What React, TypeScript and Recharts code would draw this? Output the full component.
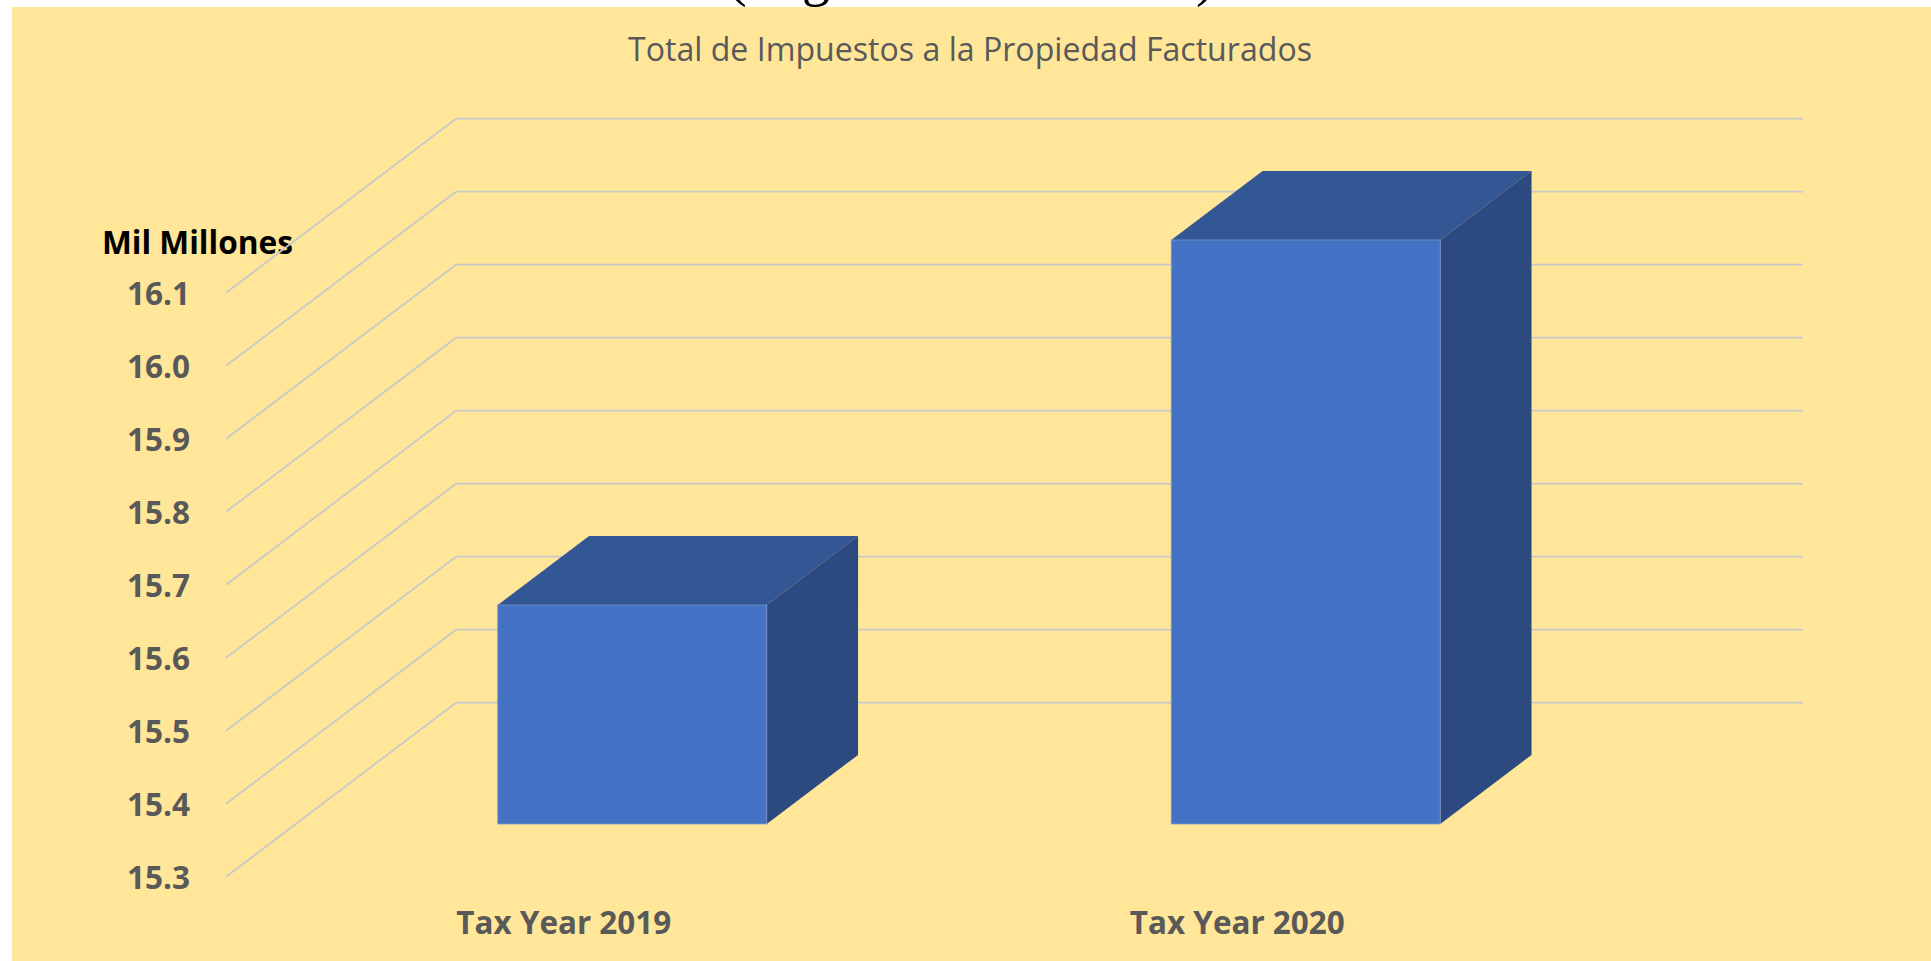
import React from 'react';
import { BarChart, Bar, XAxis, YAxis, CartesianGrid } from 'recharts';

// ---- data ----
const categories = ['Tax Year 2019', 'Tax Year 2020'];
const values = [15.6, 16.1];
const yTicks = [15.3, 15.4, 15.5, 15.6, 15.7, 15.8, 15.9, 16.0, 16.1];
const yDomain = [15.3, 16.1];
const titleText = 'Total de Impuestos a la Propiedad Facturados';
const unitText = 'Mil Millones';

const data = categories.map((name, i) => ({ name, value: values[i] }));

// ---- 3D geometry (styling) ----
const DEPTH_X = 230;
const DEPTH_Y = 174;
const BAR_FRONT = 0.303;
const BAR_BACK = 0.7;

const W = 1931;
const H = 961;
const GRID = '#C9C9C9';
const LABEL = '#595959';
const FONT = '"Open Sans", "Noto Sans", sans-serif';

const gridLine = (props: any) => {
  const { x1, x2, y1, index } = props;
  const bx = x1 + DEPTH_X;
  const by = y1 - DEPTH_Y;
  return (
    <g key={`grid-${index}`}>
      <line x1={x1} y1={y1} x2={bx} y2={by} stroke={GRID} strokeWidth={1.8} />
      <line x1={bx} y1={by} x2={x2 + DEPTH_X} y2={by} stroke={GRID} strokeWidth={1.8} />
    </g>
  );
};

const Bar3D = (props: any) => {
  const { x, y, width, height } = props;
  const fx = x + BAR_FRONT * DEPTH_X;
  const fy = y - BAR_FRONT * DEPTH_Y;
  const dx = (BAR_BACK - BAR_FRONT) * DEPTH_X;
  const dy = (BAR_BACK - BAR_FRONT) * DEPTH_Y;
  const top = `${fx},${fy} ${fx + width},${fy} ${fx + width + dx},${fy - dy} ${fx + dx},${fy - dy}`;
  const side = `${fx + width},${fy} ${fx + width + dx},${fy - dy} ${fx + width + dx},${fy + height - dy} ${fx + width},${fy + height}`;
  return (
    <g>
      <polygon points={top} fill="#335795" />
      <polygon points={side} fill="#2C4A7F" />
      <rect x={fx} y={fy} width={width} height={height} fill="#4472C4" stroke="#7E96C8" strokeWidth={0.8} />
    </g>
  );
};

const YTick = (props: any) => {
  const { y, payload } = props;
  return (
    <text x={190} y={y + 12} textAnchor="end" fontFamily={FONT} fontWeight={700} fontSize={33} fill={LABEL} textLength={63} lengthAdjust="spacingAndGlyphs">
      {Number(payload.value).toFixed(1)}
    </text>
  );
};

const XTick = (props: any) => {
  const { x, payload } = props;
  return (
    <text x={x + 1} y={934} textAnchor="middle" fontFamily={FONT} fontWeight={700} fontSize={33} fill={LABEL} textLength={215} lengthAdjust="spacingAndGlyphs">
      {payload.value}
    </text>
  );
};

export default function App() {
  return (
    <div style={{ position: 'absolute', left: 0, top: 0, width: W, height: H, overflow: 'hidden', background: '#fff' }}>
      <svg width={W} height={H} style={{ position: 'absolute', left: 0, top: 0 }}>
        <g fontFamily='"Liberation Serif", serif' fontSize={56} fill="#000">
          <text x={728} y={-5}>(</text>
          <text x={802} y={-5}>g</text>
          <text x={1196} y={-5}>)</text>
        </g>
        <rect x={12} y={7} width={W - 12} height={H - 7} fill="#FFE699" />
        <text x={628} y={61} fontFamily={FONT} fontSize={32} fill={LABEL} textLength={684} lengthAdjust="spacingAndGlyphs">
          {titleText}
        </text>
        <text x={102} y={254} fontFamily={FONT} fontWeight={700} fontSize={33} fill="#000" textLength={191} lengthAdjust="spacingAndGlyphs">
          {unitText}
        </text>
      </svg>
      <div style={{ position: 'absolute', left: 0, top: 0 }}>
        <BarChart
          width={W}
          height={H}
          data={data}
          margin={{ top: 292.7, right: 358, bottom: 0, left: 126 }}
          barCategoryGap="30%"
        >
          <CartesianGrid vertical={false} horizontal={gridLine} />
          <XAxis dataKey="name" height={84.3} axisLine={false} tickLine={false} tick={XTick} interval={0} />
          <YAxis
            type="number"
            domain={yDomain}
            ticks={yTicks}
            width={100}
            axisLine={false}
            tickLine={false}
            tick={YTick}
            interval={0}
          />
          <Bar dataKey="value" shape={Bar3D} isAnimationActive={false} />
        </BarChart>
      </div>
    </div>
  );
}
